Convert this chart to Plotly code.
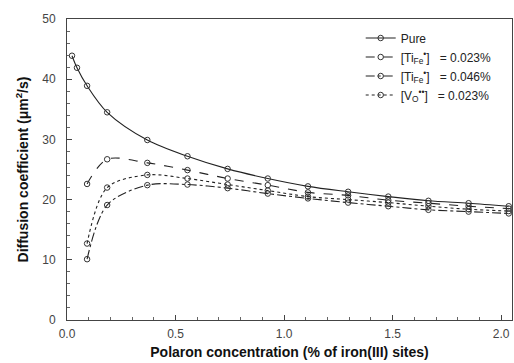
import plotly.graph_objects as go

# Polaron concentration (% of iron(III) sites)
x_all = [0.023, 0.046, 0.0925, 0.185, 0.37, 0.555, 0.74, 0.925, 1.11, 1.295, 1.48, 1.665, 1.85, 2.035]
x_doped = x_all[2:]

# Diffusion coefficients (um^2/s)
pure = [43.9, 41.9, 38.9, 34.5, 29.9, 27.2, 25.1, 23.5, 22.2, 21.3, 20.5, 19.8, 19.4, 18.9]
ti_023 = [22.6, 26.7, 26.1, 24.9, 23.5, 22.4, 21.2, 20.7, 19.9, 19.4, 18.9, 18.5]
ti_046 = [10.1, 19.1, 22.4, 22.5, 21.9, 21.0, 20.2, 19.5, 18.9, 18.3, 18.0, 17.7]
vo_023 = [12.7, 22.0, 24.1, 23.5, 22.5, 21.5, 20.5, 20.0, 19.5, 18.9, 18.4, 18.1]

x_ticks = [0.0, 0.5, 1.0, 1.5, 2.0]
y_ticks = [0, 10, 20, 30, 40, 50]

series = [
    ("Pure", x_all, pure, "solid"),
    ("[Ti<sub>Fe</sub><sup>•</sup>]   = 0.023%", x_doped, ti_023, "dash"),
    ("[Ti<sub>Fe</sub><sup>•</sup>]   = 0.046%", x_doped, ti_046, "dashdot"),
    ("[V<sub>O</sub><sup>••</sup>]   = 0.023%", x_doped, vo_023, "dot"),
]

fig = go.Figure()
for name, xs, ys, dash in series:
    fig.add_trace(go.Scatter(
        x=xs, y=ys, name=name, mode="lines+markers",
        line=dict(color="#222222", width=1.1, dash=dash, shape="spline", smoothing=0.9),
        marker=dict(symbol="circle-open", size=5.5, color="#333333", line=dict(width=1)),
    ))

axis_common = dict(
    showline=True, linecolor="#444444", linewidth=1, mirror=True,
    ticks="inside", ticklen=5, tickcolor="#444444",
    showgrid=False, zeroline=False,
    tickfont=dict(family="Liberation Sans, Arial", size=12, color="#444444"),
)

fig.update_xaxes(
    range=[0, 2.05], tickvals=x_ticks, ticktext=[f"{v:.1f}" for v in x_ticks],
    ticklabelstandoff=3,
    minor=dict(ticks="inside", ticklen=3, dtick=0.1, tickcolor="#666666"),
    title=dict(text="<b>Polaron concentration (% of iron(III) sites)</b>",
               font=dict(family="Liberation Sans, Arial", size=14, color="#111111"), standoff=6),
    **axis_common,
)
fig.update_yaxes(
    range=[0, 50], tickvals=y_ticks,
    ticklabelstandoff=8,
    minor=dict(ticks="inside", ticklen=3, dtick=2, tickcolor="#666666"),
    title=dict(text="<b>Diffusion coefficient (μm<sup>2</sup>/s)</b>",
               font=dict(family="Liberation Sans, Arial", size=14, color="#111111"), standoff=10),
    **axis_common,
)

fig.update_layout(
    width=514, height=363,
    margin=dict(l=67, r=2, t=19, b=43),
    paper_bgcolor="white", plot_bgcolor="white",
    font=dict(family="Liberation Sans, Arial", color="#222222"),
    legend=dict(x=0.66, y=0.985, xanchor="left", yanchor="top",
                bgcolor="rgba(0,0,0,0)", tracegroupgap=0,
                font=dict(family="Liberation Sans, Arial", size=12, color="#222222")),
    showlegend=True,
)

fig.write_html("out.html")
